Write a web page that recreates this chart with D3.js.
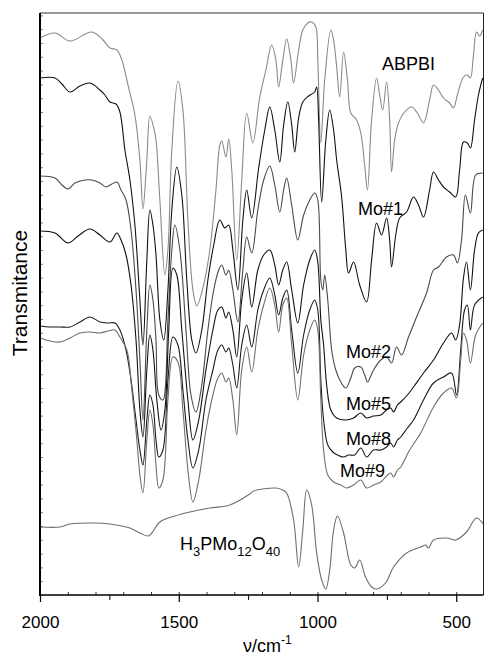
<!DOCTYPE html>
<html>
<head>
<meta charset="utf-8">
<script src="https://cdn.jsdelivr.net/npm/d3@7"></script>
<style>
  body { margin: 0; background: #fff; }
  text { font-family: "Liberation Sans", Arial, sans-serif; fill: #000; }
</style>
</head>
<body>
<svg id="chart" width="484" height="658"></svg>
<script>
// --- data (wavenumber cm-1, transmittance a.u., offset curves) ---
const abpbiWn = [2000,1946,1892,1813,1773,1748,1723,1705,1683,1658,1640,1629,1615,1604,1590,1582,1568,1550,1539,1525,1503,1485,1467,1449,1435,1413,1388,1366,1352,1345,1330,1320,1309,1291,1273,1255,1233,1208,1186,1165,1150,1140,1125,1111,1096,1086,1068,1053,1035,1021,1006,999,988,974,952,942,931,920,906,892,880,859,844,830,820,805,787,776,765,751,740,733,722,708,686,661,640,618,596,582,564,546,524,510,496,474,460,449,438,427,416,405];
const abpbiT = [55.7,56.2,55.4,56.3,55.5,54.7,54.5,53.5,51.0,48.0,43.5,38.6,43.5,47.9,46.7,45.5,39.5,32.0,34.5,44.5,51.4,48.5,37.5,30.5,28.9,30.7,34.5,40.5,45.0,45.4,43.8,45.6,42.5,33.5,41.5,48.2,45.2,49.8,52.5,55.0,53.5,50.8,53.5,55.6,53.5,51.2,54.5,56.5,57.2,57.3,56.8,53.5,45.2,51.5,56.5,55.5,52.8,49.8,54.3,51.5,48.2,47.5,46.2,43.0,40.5,47.5,51.7,50.0,48.5,51.3,47.5,42.3,45.5,47.2,48.3,48.8,48.2,47.2,49.5,51.0,50.5,49.7,49.2,48.7,50.0,51.8,52.0,51.7,54.0,56.3,55.9,56.5];

const mo1Wn = [2000,1946,1921,1892,1856,1820,1784,1766,1748,1726,1712,1694,1676,1658,1640,1629,1615,1604,1593,1582,1568,1554,1539,1525,1507,1489,1471,1453,1438,1417,1395,1374,1352,1334,1320,1305,1287,1269,1255,1237,1212,1190,1172,1154,1136,1122,1107,1093,1082,1068,1053,1032,1010,1003,996,985,970,956,942,931,913,898,888,870,848,823,805,787,769,751,740,733,718,704,679,654,636,618,596,582,564,546,524,502,488,474,460,449,434,420,405];
const mo1T = [51.7,51.7,51.1,50.3,50.9,51.2,50.5,50.0,49.3,49.1,48.3,44.5,41.5,37.0,29.5,25.0,33.5,38.5,37.0,34.0,27.5,25.5,30.5,38.5,42.8,40.0,31.5,25.5,24.2,26.5,31.5,35.0,37.5,36.7,37.0,34.5,30.5,37.5,40.5,37.7,42.7,46.5,48.8,46.5,43.3,47.0,49.3,47.0,44.3,47.7,49.3,49.9,50.3,50.8,47.5,39.3,45.5,48.5,46.5,43.5,39.8,34.5,32.2,33.3,31.0,29.3,33.5,37.2,36.0,37.7,35.5,32.8,36.0,37.7,38.3,39.8,39.0,37.8,40.5,42.3,41.5,40.8,40.3,39.8,42.5,45.3,45.2,44.7,47.5,50.0,51.7];

const mo2Wn = [2000,1946,1921,1899,1874,1838,1813,1784,1762,1741,1723,1708,1690,1672,1654,1640,1629,1615,1604,1593,1582,1572,1557,1539,1525,1514,1496,1474,1456,1438,1417,1395,1374,1356,1345,1330,1320,1305,1287,1269,1255,1237,1215,1194,1172,1154,1136,1122,1111,1093,1071,1050,1028,1010,999,988,981,974,963,949,934,916,898,880,866,844,830,820,798,772,751,733,715,697,672,643,607,582,564,535,510,496,481,467,449,430,405];
const mo2T = [41.9,41.7,41.0,40.6,41.2,41.5,41.5,41.2,40.8,41.1,41.3,40.5,39.5,36.5,30.5,23.5,17.5,26.5,31.0,29.5,25.5,20.0,19.5,27.5,34.5,37.0,34.5,26.5,20.0,18.3,21.0,26.5,30.5,32.5,33.0,32.0,32.5,30.5,27.3,32.5,35.8,34.2,38.5,41.5,42.9,41.0,38.3,40.5,41.7,39.0,35.5,38.0,39.5,40.2,39.5,31.5,30.5,32.0,29.5,24.5,22.5,21.3,20.7,21.7,22.7,22.8,22.0,21.3,22.5,23.5,23.8,23.2,24.8,24.0,25.8,27.8,30.2,32.5,32.8,33.8,34.0,33.2,35.5,40.0,38.2,42.0,42.2];

const mo5Wn = [2000,1946,1899,1863,1820,1784,1748,1723,1708,1690,1672,1654,1640,1629,1615,1604,1593,1579,1564,1550,1536,1521,1507,1489,1467,1449,1428,1402,1377,1359,1345,1330,1320,1305,1291,1273,1255,1237,1215,1194,1172,1154,1140,1125,1111,1093,1071,1050,1028,1010,999,988,978,967,952,931,898,870,844,823,798,772,751,736,726,712,700,676,654,618,582,546,517,502,488,474,463,449,434,420,405];
const mo5T = [36.4,36.2,35.2,35.9,36.6,36.0,35.3,36.2,35.5,34.0,31.0,25.5,18.5,15.8,22.5,26.0,24.5,19.5,16.5,18.5,26.5,32.7,32.0,26.5,19.5,15.5,17.5,22.5,26.5,28.5,28.8,27.7,28.3,26.5,23.8,29.5,32.2,28.8,32.5,34.0,34.5,33.0,31.0,32.5,33.3,30.5,27.2,31.0,33.5,34.5,33.3,27.5,25.0,21.0,18.5,17.7,17.5,17.7,18.2,17.7,17.9,18.0,18.5,18.7,18.3,19.0,19.3,20.0,20.8,22.2,23.5,25.2,26.2,25.5,27.0,31.7,33.3,30.5,34.5,36.2,36.5];

const mo8Wn = [2000,1964,1928,1892,1856,1820,1784,1755,1730,1712,1690,1672,1654,1640,1629,1615,1604,1593,1582,1572,1557,1539,1521,1503,1485,1467,1449,1428,1402,1377,1359,1345,1330,1320,1305,1291,1273,1255,1237,1215,1194,1172,1154,1140,1125,1111,1093,1071,1050,1028,1010,999,988,978,963,945,928,906,888,866,844,823,798,772,751,736,726,712,700,676,654,618,582,546,517,499,484,470,460,449,434,405];
const mo8T = [26.9,26.8,26.8,26.8,27.3,27.8,27.3,27.2,27.2,26.5,24.5,21.5,17.5,14.5,13.0,17.5,20.0,19.0,15.5,13.8,14.5,21.5,25.8,25.0,20.5,15.5,12.7,14.5,19.5,22.5,24.5,25.0,24.3,24.7,23.0,20.7,25.0,27.0,24.8,28.5,30.5,31.7,30.0,28.0,29.7,30.5,26.5,22.2,26.0,28.5,29.5,28.5,21.5,17.5,15.0,14.3,14.0,13.8,14.0,14.0,14.7,13.8,14.5,14.5,14.8,15.2,14.8,15.5,15.8,16.7,17.5,19.5,21.2,21.8,22.2,20.0,24.5,28.5,29.0,26.5,29.0,29.8];

const mo9Wn = [2000,1964,1928,1892,1856,1820,1784,1755,1730,1712,1687,1669,1651,1640,1629,1615,1604,1593,1582,1572,1557,1539,1521,1503,1485,1467,1449,1428,1402,1377,1359,1345,1330,1320,1305,1291,1273,1255,1237,1215,1194,1172,1154,1140,1125,1111,1093,1071,1050,1028,1010,999,988,978,963,942,916,895,870,844,823,798,772,751,736,726,712,700,668,628,582,546,517,499,484,474,463,449,430,405];
const mo9T = [25.7,25.4,25.3,25.7,26.2,26.3,26.2,26.4,26.5,25.8,24.5,20.5,15.5,12.0,10.2,15.5,18.5,17.0,13.0,10.7,11.5,19.5,23.8,23.3,18.5,12.5,9.3,11.5,16.5,20.0,21.7,22.2,21.3,21.7,19.5,16.0,22.5,24.8,22.3,26.5,29.0,30.7,29.0,26.3,29.0,29.7,25.0,19.5,24.0,26.5,27.5,26.5,19.5,14.5,12.0,11.3,11.0,10.7,11.0,11.5,10.7,11.0,11.3,11.9,12.2,11.8,12.5,12.8,14.5,16.2,18.8,20.2,20.7,19.7,23.5,26.2,25.5,23.2,26.0,27.2];

const hpmoWn = [2000,1928,1892,1802,1748,1676,1640,1611,1597,1568,1514,1460,1388,1316,1244,1230,1150,1125,1111,1086,1068,1053,1039,1021,1003,985,970,956,942,928,906,880,866,848,827,805,787,755,726,679,628,610,600,582,535,502,463,427,400];
const hpmoT = [6.8,6.8,7.1,7.2,7.1,6.7,6.2,5.9,6.2,7.3,7.9,8.3,8.7,9.0,10.1,10.4,10.7,10.5,10.2,7.5,2.8,6.5,10.5,9.0,4.2,1.5,0.6,2.5,6.5,7.9,6.2,3.0,2.7,3.5,1.8,0.8,0.6,1.2,2.8,4.2,4.8,5.0,4.7,5.5,5.7,5.5,6.3,7.7,7.0];

const xMajorTicks = [2000, 1500, 1000, 500];
const xMidTicks = [1750, 1250, 750];

// --- layout ---
const svg = d3.select("#chart");
const m = { left: 40, right: 483.5, top: 13, bottom: 595 };

const x = d3.scaleLinear().domain([2000, 400]).range([40, 484]);
const y = d3.scaleLinear().domain([0, 58.2]).range([m.bottom, m.top]);

svg.append("clipPath").attr("id", "clip")
  .append("rect")
  .attr("x", m.left).attr("y", m.top)
  .attr("width", m.right - m.left).attr("height", m.bottom - m.top);

const line = d3.line()
  .x(d => x(d[0]))
  .y(d => y(d[1]))
  .curve(d3.curveCatmullRom.alpha(0.5));

const series = [
  { wn: abpbiWn, t: abpbiT, color: "#8a8a8a" },
  { wn: mo1Wn,   t: mo1T,   color: "#111" },
  { wn: mo2Wn,   t: mo2T,   color: "#4a4a4a" },
  { wn: mo5Wn,   t: mo5T,   color: "#111" },
  { wn: mo8Wn,   t: mo8T,   color: "#1a1a1a" },
  { wn: mo9Wn,   t: mo9T,   color: "#6e6e6e" },
  { wn: hpmoWn,  t: hpmoT,  color: "#6e6e6e" }
];

const g = svg.append("g").attr("clip-path", "url(#clip)");
series.forEach(s => {
  g.append("path")
    .datum(d3.zip(s.wn, s.t))
    .attr("fill", "none")
    .attr("stroke", s.color)
    .attr("stroke-width", 1.1)
    .attr("stroke-linejoin", "round")
    .attr("d", line);
});

// --- frame ---
svg.append("line").attr("x1", m.left).attr("x2", m.right).attr("y1", m.top).attr("y2", m.top)
  .attr("stroke", "#333").attr("stroke-width", 1);
svg.append("line").attr("x1", m.right).attr("x2", m.right).attr("y1", m.top).attr("y2", m.bottom)
  .attr("stroke", "#222").attr("stroke-width", 1);

// y minor ticks (no labels)
const yAxis = d3.axisRight(y)
  .tickValues(d3.range(0, 58.2, 1.38))
  .tickSize(3)
  .tickFormat("");
const yg = svg.append("g").attr("transform", `translate(${m.left},0)`).call(yAxis);
yg.select(".domain").remove();
yg.selectAll("line").attr("stroke", "#555").attr("stroke-width", 0.8);
svg.append("line").attr("x1", m.left).attr("x2", m.left).attr("y1", m.top).attr("y2", m.bottom + 1)
  .attr("stroke", "#000").attr("stroke-width", 2);

// x axis: small inner ticks every 100, outer ticks at 250s, labels at 500s
const xMinor = d3.axisTop(x).tickValues(d3.range(1900, 400, -100)).tickSize(3).tickFormat("");
const xm = svg.append("g").attr("transform", `translate(0,${m.bottom})`).call(xMinor);
xm.select(".domain").remove();
xm.selectAll("line").attr("stroke", "#333");

const xMid = d3.axisBottom(x).tickValues(xMidTicks).tickSize(5).tickFormat("");
const xd = svg.append("g").attr("transform", `translate(0,${m.bottom})`).call(xMid);
xd.select(".domain").remove();

const xAxis = d3.axisBottom(x).tickValues(xMajorTicks).tickSize(7).tickPadding(14).tickFormat(d => d);
const xa = svg.append("g").attr("transform", `translate(0,${m.bottom})`).call(xAxis);
xa.select(".domain").remove();
xa.selectAll("line").attr("stroke-width", 1.2);
xa.selectAll("text").style("font-size", "17px").attr("fill", "#000");

svg.append("line").attr("x1", m.left - 1).attr("x2", m.right).attr("y1", m.bottom).attr("y2", m.bottom)
  .attr("stroke", "#000").attr("stroke-width", 1.6);

// axis titles
svg.append("text")
  .attr("transform", `translate(27,293) rotate(-90)`)
  .attr("text-anchor", "middle")
  .style("font-size", "21px")
  .text("Transmitance");

const xt = svg.append("text")
  .attr("x", 243).attr("y", 652)
  .style("font-size", "18px");
xt.append("tspan").text("ν/cm");
xt.append("tspan").attr("dy", -8).style("font-size", "12px").text("-1");

// curve labels
const labelText = ["ABPBI", "Mo#1", "Mo#2", "Mo#5", "Mo#8", "Mo#9"];
const labelPos = [[382, 70], [358, 215], [346, 358], [346, 410], [346, 445], [340, 477]];
labelText.forEach((t, i) => {
  svg.append("text")
    .attr("x", labelPos[i][0]).attr("y", labelPos[i][1])
    .style("font-size", "18px")
    .text(t);
});

const hl = svg.append("text").attr("x", 180).attr("y", 550).style("font-size", "18px");
[["H", 0], ["3", 6], ["PMo", -6], ["12", 6], ["O", -6], ["40", 6]].forEach(([s, dy], i) => {
  hl.append("tspan").attr("dy", dy).style("font-size", i % 2 ? "13px" : "18px").text(s);
});
</script>
</body>
</html>
